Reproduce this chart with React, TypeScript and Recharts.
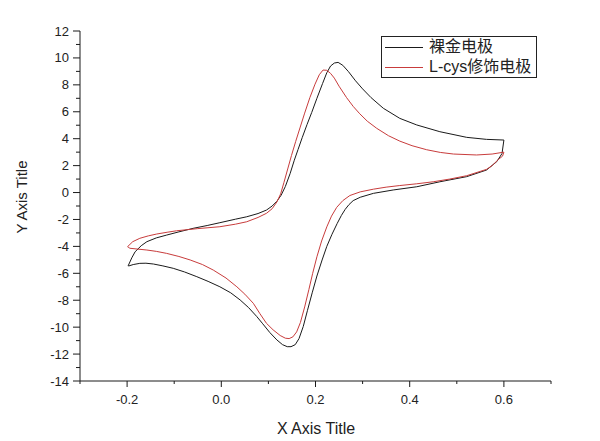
import React from "react";
import { LineChart, Line, XAxis, YAxis, Legend, Label } from "recharts";

// bare gold electrode: anodic sweep (left -> right), then cathodic sweep back
const bareAnodic: [number, number][] = [
  [-0.198, -5.46], [-0.19, -4.85], [-0.183, -4.4], [-0.17, -3.95], [-0.158, -3.65],
  [-0.138, -3.37], [-0.116, -3.16], [-0.09, -2.92], [-0.06, -2.66], [-0.03, -2.45],
  [-0.003, -2.24], [0.03, -1.98], [0.054, -1.8], [0.078, -1.56], [0.096, -1.3],
  [0.108, -1.0], [0.118, -0.65], [0.127, -0.2], [0.136, 0.45], [0.146, 1.4],
  [0.155, 2.4], [0.163, 3.2], [0.172, 4.1], [0.182, 5.05], [0.192, 5.95],
  [0.203, 7.0], [0.215, 8.1], [0.224, 8.9], [0.232, 9.4], [0.24, 9.62],
  [0.248, 9.67], [0.258, 9.45], [0.27, 8.98], [0.285, 8.3], [0.3, 7.7],
  [0.318, 7.05], [0.344, 6.26], [0.379, 5.51], [0.415, 5.02], [0.464, 4.52],
  [0.521, 4.1], [0.563, 3.95], [0.6, 3.9],
];
const bareCathodic: [number, number][] = [
  [0.596, 2.9], [0.585, 2.3], [0.563, 1.67], [0.521, 1.18], [0.464, 0.8],
  [0.415, 0.43], [0.365, 0.19], [0.323, -0.06], [0.295, -0.35], [0.28, -0.6],
  [0.271, -0.9], [0.263, -1.25], [0.255, -1.7], [0.246, -2.3], [0.235, -3.1],
  [0.224, -4.0], [0.214, -5.01], [0.203, -6.2], [0.193, -7.45], [0.183, -8.75],
  [0.174, -9.95], [0.165, -10.85], [0.157, -11.3], [0.148, -11.45], [0.14, -11.45],
  [0.13, -11.3], [0.118, -10.95], [0.103, -10.4], [0.088, -9.75], [0.075, -9.2],
  [0.058, -8.55], [0.04, -7.98], [0.02, -7.45], [-0.003, -7.0], [-0.028, -6.6],
  [-0.052, -6.25], [-0.078, -5.9], [-0.102, -5.63], [-0.124, -5.45], [-0.144, -5.31],
  [-0.16, -5.25], [-0.173, -5.26], [-0.187, -5.35], [-0.197, -5.46],
];

// L-cys modified electrode
const cysAnodic: [number, number][] = [
  [-0.199, -4.02], [-0.188, -3.65], [-0.173, -3.4], [-0.155, -3.22], [-0.137, -3.08],
  [-0.115, -2.95], [-0.095, -2.84], [-0.05, -2.68], [-0.003, -2.54], [0.03, -2.35],
  [0.054, -2.17], [0.078, -1.85], [0.096, -1.54], [0.108, -1.2], [0.118, -0.7],
  [0.126, -0.1], [0.133, 0.75], [0.141, 1.75], [0.149, 2.75], [0.158, 3.8],
  [0.167, 4.8], [0.177, 5.9], [0.188, 7.05], [0.199, 8.05], [0.208, 8.75],
  [0.216, 9.1], [0.224, 9.08], [0.232, 8.85], [0.24, 8.5], [0.25, 7.9],
  [0.266, 7.05], [0.28, 6.4], [0.294, 5.85], [0.31, 5.3], [0.33, 4.77],
  [0.355, 4.22], [0.379, 3.82], [0.405, 3.48], [0.436, 3.18], [0.465, 2.98],
  [0.493, 2.86], [0.542, 2.79], [0.575, 2.86], [0.6, 3.0],
];
const cysCathodic: [number, number][] = [
  [0.597, 2.7], [0.588, 2.45], [0.575, 2.0], [0.563, 1.72], [0.521, 1.25],
  [0.485, 1.0], [0.45, 0.8], [0.415, 0.65], [0.379, 0.52], [0.35, 0.4],
  [0.323, 0.25], [0.295, 0.05], [0.273, -0.22], [0.258, -0.6], [0.245, -1.1],
  [0.234, -1.75], [0.224, -2.55], [0.213, -3.6], [0.203, -4.77], [0.194, -6.0],
  [0.186, -7.2], [0.177, -8.5], [0.168, -9.65], [0.16, -10.35], [0.152, -10.72],
  [0.144, -10.85], [0.136, -10.82], [0.125, -10.62], [0.11, -10.2], [0.096, -9.72],
  [0.082, -9.0], [0.068, -8.23], [0.05, -7.55], [0.033, -7.0], [0.01, -6.35],
  [-0.017, -5.76], [-0.04, -5.35], [-0.066, -5.01], [-0.09, -4.75], [-0.116, -4.52],
  [-0.138, -4.37], [-0.158, -4.27], [-0.178, -4.2], [-0.194, -4.14], [-0.199, -4.02],
];

const seriesNames = ["裸金电极", "L-cys修饰电极"];
const xTicks = [-0.3, -0.2, -0.1, 0, 0.1, 0.2, 0.3, 0.4, 0.5, 0.6, 0.7];
const yTicks = [
  -14, -13, -12, -11, -10, -9, -8, -7, -6, -5, -4, -3, -2, -1, 0,
  1, 2, 3, 4, 5, 6, 7, 8, 9, 10, 11, 12,
];

const toPoints = (...parts: [number, number][][]) =>
  parts.flat().map(([x, y]) => ({ x, y }));

const bareData = toPoints(bareAnodic, bareCathodic);
const cysData = toPoints(cysAnodic, cysCathodic);

const FONT = "'Liberation Sans', Arial, 'Noto Sans CJK SC', sans-serif";
const BLACK = "#1a1a1a";
const RED = "#c83c3c";

const XTick = (props: any) => {
  const { x, y, payload } = props;
  const k = Math.round(payload.value * 10);
  const major = k % 2 === 0;
  const showLabel = major && k >= -2 && k <= 6;
  return (
    <g>
      <line x1={x} x2={x} y1={y} y2={y + (major ? 6 : 3)} stroke={BLACK} strokeWidth={1} />
      {showLabel && (
        <text x={x} y={y + 23} textAnchor="middle" fontSize={13} fontFamily={FONT} fill="#222">
          {payload.value.toFixed(1)}
        </text>
      )}
    </g>
  );
};

const YTick = (props: any) => {
  const { x, y, payload } = props;
  const major = payload.value % 2 === 0;
  return (
    <g>
      <line x1={x - (major ? 7 : 4)} x2={x} y1={y} y2={y} stroke={BLACK} strokeWidth={1} />
      {major && (
        <text x={x - 11} y={y} dy="0.35em" textAnchor="end" fontSize={13} fontFamily={FONT} fill="#222">
          {payload.value}
        </text>
      )}
    </g>
  );
};

const LegendBox = (props: any) => {
  const items = [...(props.payload || [])].sort(
    (a: any, b: any) => seriesNames.indexOf(a.value) - seriesNames.indexOf(b.value)
  );
  return (
    <div
      style={{
        border: "1px solid #222",
        background: "#fff",
        width: 154,
        fontFamily: FONT,
        fontSize: 16,
        color: "#222",
      }}
    >
      {items.map((it: any) => (
        <div key={it.value} style={{ display: "flex", alignItems: "center", height: 20 }}>
          <div style={{ width: 38, height: 1, background: it.color, marginLeft: 3, marginRight: 6 }} />
          <span style={{ whiteSpace: "nowrap", lineHeight: "20px" }}>{it.value}</span>
        </div>
      ))}
    </div>
  );
};

export default function App() {
  return (
    <div style={{ position: "absolute", left: 0, top: 0, width: 600, height: 441, background: "#fff" }}>
      <LineChart width={600} height={441} margin={{ top: 31, right: 49, bottom: 0, left: 0 }}>
        <XAxis
          dataKey="x"
          type="number"
          domain={[-0.3, 0.7]}
          ticks={xTicks}
          interval={0}
          height={60}
          tickSize={0}
          tickMargin={0}
          tickLine={false}
          tick={<XTick />}
          axisLine={{ stroke: BLACK, strokeWidth: 1 }}
          allowDataOverflow
        >
          <Label
            content={() => (
              <text x={316} y={434} textAnchor="middle" fontSize={16} fontFamily={FONT} fill="#222">
                X Axis Title
              </text>
            )}
          />
        </XAxis>
        <YAxis
          dataKey="y"
          type="number"
          domain={[-14, 12]}
          ticks={yTicks}
          interval={0}
          width={80}
          tickSize={0}
          tickMargin={0}
          tickLine={false}
          tick={<YTick />}
          axisLine={{ stroke: BLACK, strokeWidth: 1 }}
          allowDataOverflow
        >
          <Label
            content={() => (
              <text
                x={21}
                y={197}
                transform="rotate(-90 21 197)"
                textAnchor="middle"
                dominantBaseline="central"
                fontSize={15}
                fontFamily={FONT}
                fill="#222"
              >
                Y Axis Title
              </text>
            )}
          />
        </YAxis>
        <Legend
          layout="vertical"
          align="center"
          verticalAlign="middle"
          content={<LegendBox />}
          wrapperStyle={{ position: "absolute", top: 36, left: 381, width: 156 }}
        />
        <Line
          data={bareData}
          dataKey="y"
          name={seriesNames[0]}
          type="linear"
          stroke={BLACK}
          strokeWidth={1}
          dot={false}
          activeDot={false}
          isAnimationActive={false}
        />
        <Line
          data={cysData}
          dataKey="y"
          name={seriesNames[1]}
          type="linear"
          stroke={RED}
          strokeWidth={1}
          dot={false}
          activeDot={false}
          isAnimationActive={false}
        />
      </LineChart>
    </div>
  );
}
